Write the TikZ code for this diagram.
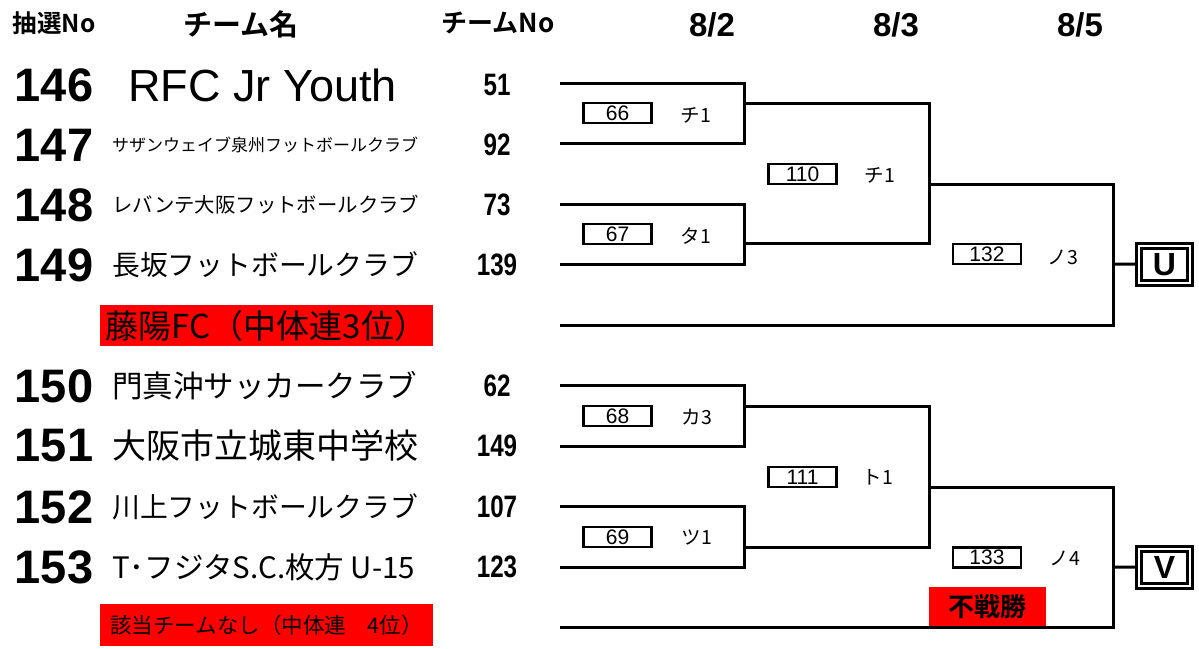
\documentclass[tikz,border=0pt]{standalone}
\usepackage{fontspec}
\usepackage{tikz}
\setmainfont{Noto Sans CJK JP}[BoldFont={Noto Sans CJK JP Bold}]
\newfontfamily\latinfont{Liberation Sans}
\newfontfamily\narrowfont{Liberation Sans}[FakeStretch=0.78]
\newcommand{\fsz}[1]{\fontsize{#1}{#1}\selectfont}

\begin{document}
\begin{tikzpicture}[x=1pt, y=-1pt,
        head/.style={font=\bfseries\fsz{26}, inner sep=0pt},
        date/.style={font=\latinfont\bfseries\fsz{33}, inner sep=0pt},
        drawno/.style={font=\latinfont\bfseries\fsz{47}, inner sep=0pt},
        team/.style={anchor=west, inner sep=0pt},
        teamno/.style={font=\narrowfont\bfseries\fsz{31}, inner sep=0pt},
        game/.style={rectangle, draw, line width=2.6pt, minimum width=68pt, minimum height=20pt, inner sep=0pt, font=\latinfont\fsz{21}},
        court/.style={font=\fsz{19.5}, inner sep=0pt},
        slot/.style={rectangle, draw, double, double distance=2.5pt, line width=2.5pt, minimum width=51pt, minimum height=37pt, inner sep=0pt, font=\latinfont\bfseries\fsz{32}},
        seed/.style={rectangle, fill=red, minimum width=333pt, minimum height=41pt, inner sep=0pt},
        line/.style={line width=3pt}
    ]
        \useasboundingbox (0,0) rectangle (1199,648);

        % headings
        \node[head, font=\bfseries\fsz{24.5}] (hdraw) at (54,23) {抽選No};
        \node[head, font=\bfseries\fsz{29}] (hname) at (241,24) {チーム名};
        \node[head] (hno) at (498,23) {チームNo};
        \node[date] (day1) at (712,25) {8/2};
        \node[date] (day2) at (896,25) {8/3};
        \node[date] (day3) at (1080,25) {8/5};

        % upper block
        \node[drawno] (d146) at (54,85) {146};
        \node[drawno] (d147) at (54,145) {147};
        \node[drawno] (d148) at (54,205) {148};
        \node[drawno] (d149) at (54,265) {149};
        \node[team, font=\latinfont\fsz{45}] (t146) at (128,85) {RFC Jr Youth};
        \node[team, font=\fsz{17}] (t147) at (112,145) {サザンウェイブ泉州フットボールクラブ};
        \node[team, font=\fsz{20.4}] (t148) at (112,205) {レバンテ大阪フットボールクラブ};
        \node[team, font=\fsz{27.8}] (t149) at (112,265) {長坂フットボールクラブ};
        \node[teamno] (n146) at (497,85) {51};
        \node[teamno] (n147) at (497,145) {92};
        \node[teamno] (n148) at (497,205) {73};
        \node[teamno] (n149) at (497,265) {139};
        \node[seed, font=\fsz{33}] (seed3) at (266.5,325.5) {藤陽FC（中体連3位）};

        % lower block
        \node[drawno] (d150) at (54,386) {150};
        \node[drawno] (d151) at (54,446) {151};
        \node[drawno] (d152) at (54,507) {152};
        \node[drawno] (d153) at (54,567) {153};
        \node[team, font=\fsz{30.5}] (t150) at (112,386) {門真沖サッカークラブ};
        \node[team, font=\fsz{34}] (t151) at (112,446) {大阪市立城東中学校};
        \node[team, font=\fsz{27.8}] (t152) at (112,507) {川上フットボールクラブ};
        \node[team, font=\fsz{29.5}] (t153) at (112,567) {T･フジタS.C.枚方 U-15};
        \node[teamno] (n150) at (497,386) {62};
        \node[teamno] (n151) at (497,446) {149};
        \node[teamno] (n152) at (497,507) {107};
        \node[teamno] (n153) at (497,567) {123};
        \node[seed, minimum height=42pt, font=\fsz{21.5}] (seed4) at (266.5,625) {該当チームなし（中体連　4位）};

        % bracket points
        \coordinate (a1) at (560,83);
        \coordinate (a2) at (560,143);
        \coordinate (a3) at (560,204);
        \coordinate (a4) at (560,264);
        \coordinate (a5) at (560,325);
        \coordinate (b1) at (560,385);
        \coordinate (b2) at (560,446);
        \coordinate (b3) at (560,506);
        \coordinate (b4) at (560,567);
        \coordinate (b5) at (560,627);
        \coordinate (q1) at (744,103);
        \coordinate (q2) at (744,243);
        \coordinate (q3) at (744,406);
        \coordinate (q4) at (744,547);
        \coordinate (s1) at (929,184);
        \coordinate (s2) at (929,487);
        \coordinate (f1) at (1113,264);
        \coordinate (f2) at (1113,567);

        % games
        \node[game] (g66) at (617.5,113) {66};
        \node[court] (c66) at (696,115) {チ1};
        \node[game] (g67) at (617.5,234) {67};
        \node[court] (c67) at (696,236) {タ1};
        \node[game] (g110) at (802.5,174) {110};
        \node[court] (c110) at (880,175) {チ1};
        \node[game] (g132) at (987,254) {132};
        \node[court] (c132) at (1063,257) {ノ3};
        \node[game] (g68) at (617.5,416) {68};
        \node[court] (c68) at (697,417) {カ3};
        \node[game] (g69) at (617.5,537) {69};
        \node[court] (c69) at (697,537) {ツ1};
        \node[game] (g111) at (802.5,477) {111};
        \node[court] (c111) at (878,477) {ト1};
        \node[game] (g133) at (987,557.5) {133};
        \node[court] (c133) at (1065,558) {ノ4};
        \node[rectangle, fill=red, minimum width=117pt, minimum height=39pt, inner sep=0pt, font=\bfseries\fsz{26}] (bye) at (987.5,606.5) {不戦勝};

        \node[slot] (winU) at (1164.5,264.5) {U};
        \node[slot] (winV) at (1164.5,567.5) {V};

        % lines
        \draw[line] (a1) -| (q1) |- (a2);
        \draw[line] (a3) -| (q2) |- (a4);
        \draw[line] (q1) -| (s1) |- (q2);
        \draw[line] (s1) -| (f1) |- (a5);
        \draw[line] (f1) -- (winU);
        \draw[line] (b1) -| (q3) |- (b2);
        \draw[line] (b3) -| (q4) |- (b4);
        \draw[line] (q3) -| (s2) |- (q4);
        \draw[line] (s2) -| (f2) |- (b5);
        \draw[line] (f2) -- (winV);
    \end{tikzpicture}
\end{document}
